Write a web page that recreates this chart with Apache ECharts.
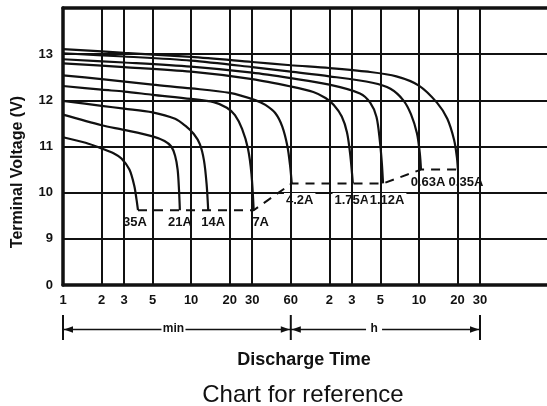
<!DOCTYPE html>
<html><head><meta charset="utf-8">
<script src="https://cdn.jsdelivr.net/npm/echarts@6/dist/echarts.min.js"></script>
<style>html,body{margin:0;padding:0;background:#fff}#c{width:547px;height:406px}</style>
</head><body><div id="c"></div>
<script>
// ---- data (time in minutes, voltage in V) ----
const xTickValues = [1, 2, 3, 5, 10, 20, 30, 60, 120, 180, 300, 600, 1200, 1800];
const xTickLabels = ['1', '2', '3', '5', '10', '20', '30', '60', '2', '3', '5', '10', '20', '30'];
const yTickLabels = ['0', '9', '10', '11', '12', '13', ''];
const curveNames = ['35A', '21A', '14A', '7A', '4.2A', '1.75A', '1.12A', '0.63A', '0.35A'];

const c35A = [[1, 11.2], [1.5, 11.08], [2, 10.96], [2.5, 10.85], [2.86, 10.74], [3.3, 10.5], [3.6, 10.15], [3.75, 9.85], [3.85, 9.62]];
const c21A = [[1, 11.69], [2, 11.46], [3, 11.36], [5, 11.22], [6.2, 11.12], [7, 11.0], [7.5, 10.8], [7.85, 10.5], [8.05, 10.05], [8.17, 9.62]];
const c14A = [[1, 11.99], [2, 11.88], [3, 11.82], [5, 11.74], [7.5, 11.6], [9, 11.45], [10.5, 11.27], [11.7, 11.05], [12.6, 10.7], [13.2, 10.2], [13.6, 9.62]];
const c7A = [[1, 12.31], [2, 12.23], [3, 12.19], [5, 12.12], [10, 12.03], [15, 11.96], [19, 11.84], [22, 11.68], [25, 11.38], [27.8, 10.95], [29.6, 10.4], [30.8, 9.62]];
const c4_2A = [[1, 12.54], [2, 12.46], [5, 12.34], [10, 12.26], [20, 12.16], [32, 12.0], [38, 11.9], [45.5, 11.72], [51.5, 11.43], [56.5, 11.0], [59.4, 10.56], [61, 10.2]];
const c1_75A = [[1, 12.8], [3, 12.72], [10, 12.62], [30, 12.46], [60, 12.3], [90, 12.18], [112, 12.05], [130, 11.9], [150, 11.65], [165, 11.3], [175, 10.8], [183, 10.2]];
const c1_12A = [[1, 12.89], [3, 12.82], [10, 12.73], [30, 12.6], [60, 12.48], [120, 12.34], [208, 12.15], [250, 11.95], [280, 11.64], [298, 11.1], [308, 10.65], [315, 10.2]];
const c0_63A = [[1, 13.02], [3, 12.95], [10, 12.86], [30, 12.72], [60, 12.62], [120, 12.52], [260, 12.38], [360, 12.25], [454, 12.0], [520, 11.7], [580, 11.28], [610, 10.85], [623, 10.5]];
const c0_35A = [[1, 13.11], [3, 13.03], [10, 12.94], [30, 12.83], [60, 12.76], [120, 12.7], [240, 12.62], [400, 12.52], [600, 12.32], [830, 11.95], [1000, 11.6], [1130, 11.14], [1190, 10.75], [1210, 10.5]];
const curves = [c35A, c21A, c14A, c7A, c4_2A, c1_75A, c1_12A, c0_63A, c0_35A];
// curves whose end points define the dashed end-voltage line
const cutoffCurveIdx = [0, 3, 4, 6, 7, 8];

// ---- styling ----
const FONT = '"Liberation Sans", Arial, Helvetica, sans-serif';
const INK = '#111';
const labelOffsets = [[-3, 12], [0, 12], [5, 12], [7, 12], [8, 17], [-1, 17], [4, 17], [7, 13], [8, 13]];

const chart = echarts.init(document.getElementById('c'), null, { renderer: 'canvas' });

const series = [];
series.push({
  type: 'line', name: 'cutoff',
  data: cutoffCurveIdx.map(i => curves[i][curves[i].length - 1]),
  showSymbol: false, silent: true, z: 2,
  lineStyle: { color: INK, width: 2, type: [9, 7] },
  markLine: {
    silent: true, symbol: ['none', 'none'], animation: false,
    lineStyle: { color: INK, width: 2, type: 'solid' },
    label: { show: true, position: 'start', distance: 9, formatter: '{b}', color: INK, fontWeight: 'bold', fontSize: 13, fontFamily: FONT },
    emphasis: { disabled: true },
    data: xTickValues.map((v, i) => ({ xAxis: v, name: xTickLabels[i] }))
  }
});
curves.forEach((d, i) => {
  series.push({
    type: 'line', name: curveNames[i], data: d, showSymbol: false, smooth: 0.3, z: 3, silent: true,
    lineStyle: { color: INK, width: 2.2 },
    endLabel: {
      show: true, formatter: () => curveNames[i], align: 'center', verticalAlign: 'middle', distance: 0,
      offset: labelOffsets[i], color: INK, fontWeight: 'bold', fontSize: 13, fontFamily: FONT,
      backgroundColor: '#fff', padding: [1, 2]
    }
  });
});

chart.setOption({
  animation: false,
  backgroundColor: '#fff',
  grid: { left: 63, right: 0, top: 8, bottom: 121, containLabel: false },
  xAxis: [
    { type: 'log', logBase: 10, min: 1, max: 6000,
      axisLine: { show: true, onZero: false, lineStyle: { color: INK, width: 3.5 } },
      axisTick: { show: false }, axisLabel: { show: false }, splitLine: { show: false }, minorSplitLine: { show: false } },
    { type: 'value', position: 'top', min: 0, max: 1,
      axisLine: { show: true, onZero: false, lineStyle: { color: INK, width: 3.5 } },
      axisTick: { show: false }, axisLabel: { show: false }, splitLine: { show: false } }
  ],
  yAxis: {
    type: 'value', min: 8, max: 14, interval: 1,
    axisLine: { show: true, onZero: false, lineStyle: { color: INK, width: 3.5 } },
    axisTick: { show: false },
    axisLabel: { formatter: v => yTickLabels[Math.round(v - 8)], margin: 10, color: INK, fontWeight: 'bold', fontSize: 13, fontFamily: FONT },
    splitLine: { show: true, lineStyle: { color: INK, width: 2 } }
  },
  series: series
});

// ---- annotations anchored to the axis scale ----
const px = v => chart.convertToPixel({ xAxisIndex: 0 }, v);
const xL = px(1), xM = px(60), xR = px(1800);
const yB = 329.5;
const minX = xL + 0.485 * (xM - xL);
const hX = xM + 0.44 * (xR - xM);
const lineEl = (x1, y1, x2, y2, w) => ({ type: 'line', shape: { x1, y1, x2, y2 }, style: { stroke: INK, lineWidth: w }, silent: true });
const arrow = (tip, dir) => ({ type: 'polygon', shape: { points: [[tip, yB], [tip - dir * 9, yB - 3.2], [tip - dir * 9, yB + 3.2]] }, style: { fill: INK }, silent: true });
const textEl = (x, y, text, font, rot) => ({ type: 'text', x, y, rotation: rot || 0, silent: true,
  style: { text, font, fill: INK, textAlign: 'center', textVerticalAlign: 'middle', verticalAlign: 'middle' } });

chart.setOption({
  graphic: [
    textEl(18, 172, 'Terminal Voltage (V)', 'bold 16px ' + FONT, Math.PI / 2),
    lineEl(xL, 315, xL, 340, 2), lineEl(xM, 315, xM, 340, 2), lineEl(xR, 315, xR, 340, 2),
    lineEl(xL, yB, minX - 12, yB, 1.5), lineEl(minX + 12, yB, xM, yB, 1.5),
    lineEl(xM, yB, hX - 8, yB, 1.5), lineEl(hX + 8, yB, xR, yB, 1.5),
    arrow(xL + 1, -1), arrow(xM - 1, 1), arrow(xM + 1, -1), arrow(xR - 1, 1),
    textEl(minX, yB - 1, 'min', 'bold 12px ' + FONT),
    textEl(hX, yB - 1, 'h', 'bold 12px ' + FONT),
    textEl(304, 360, 'Discharge Time', 'bold 18px ' + FONT),
    textEl(303, 395, 'Chart for reference', '24px ' + FONT)
  ]
});
</script></body></html>
